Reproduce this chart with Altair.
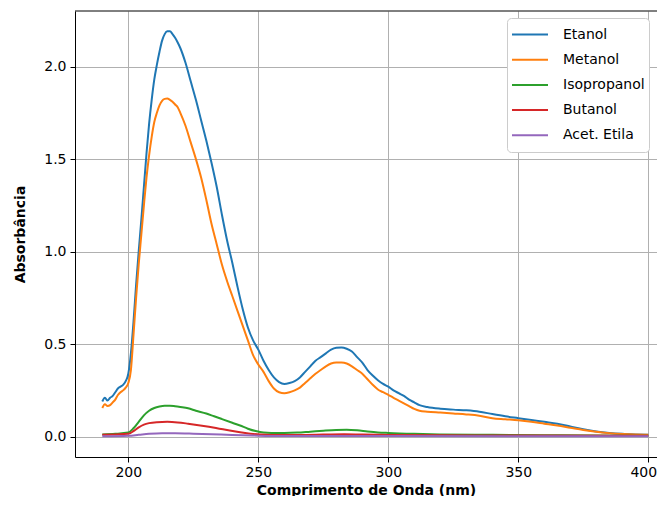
import altair as alt
import pandas as pd

# ---- data ----
etanol_nm = [190, 191, 192, 193, 194, 195, 196, 197, 198, 199, 200, 201, 202, 203, 204, 205, 206, 207, 208, 209,
             210, 211, 212, 213, 214, 215, 216, 217, 218, 219, 220, 222, 224, 226, 228, 230, 232, 234, 236, 238,
             240, 242, 244, 246, 248, 250, 252, 254, 256, 258, 260, 262, 264, 266, 268, 270, 272, 274, 276, 278,
             280, 282, 284, 286, 288, 290, 292, 294, 296, 298, 300, 302, 304, 306, 308, 310, 312, 315, 320, 325,
             330, 335, 340, 345, 350, 355, 360, 365, 370, 375, 380, 385, 390, 395, 400]
etanol_abs = [0.19, 0.21, 0.195, 0.21, 0.22, 0.24, 0.26, 0.27, 0.28, 0.30, 0.34, 0.45, 0.62, 0.82, 1.00, 1.17, 1.35, 1.53, 1.69, 1.82,
              1.93, 2.01, 2.08, 2.14, 2.175, 2.19, 2.19, 2.175, 2.155, 2.13, 2.10, 2.02, 1.92, 1.82, 1.71, 1.60, 1.48, 1.35, 1.20, 1.06,
              0.94, 0.81, 0.69, 0.59, 0.52, 0.47, 0.41, 0.36, 0.32, 0.295, 0.285, 0.29, 0.30, 0.32, 0.35, 0.38, 0.41, 0.43, 0.45, 0.47,
              0.48, 0.482, 0.475, 0.46, 0.43, 0.40, 0.36, 0.33, 0.305, 0.285, 0.27, 0.25, 0.235, 0.22, 0.20, 0.185, 0.17, 0.16, 0.151, 0.146,
              0.142, 0.135, 0.122, 0.11, 0.10, 0.09, 0.08, 0.07, 0.055, 0.04, 0.028, 0.02, 0.015, 0.012, 0.01]

metanol_nm = etanol_nm
metanol_abs = [0.155, 0.175, 0.165, 0.17, 0.185, 0.20, 0.225, 0.24, 0.25, 0.265, 0.29, 0.36, 0.55, 0.75, 0.93, 1.09, 1.25, 1.40, 1.52, 1.62,
               1.70, 1.75, 1.79, 1.815, 1.825, 1.827, 1.82, 1.81, 1.795, 1.78, 1.75, 1.68, 1.59, 1.50, 1.40, 1.28, 1.15, 1.04, 0.93, 0.84,
               0.76, 0.68, 0.60, 0.52, 0.44, 0.39, 0.35, 0.30, 0.26, 0.24, 0.235, 0.24, 0.25, 0.265, 0.29, 0.315, 0.34, 0.36, 0.38, 0.395,
               0.40, 0.40, 0.395, 0.38, 0.36, 0.34, 0.31, 0.28, 0.255, 0.24, 0.226, 0.21, 0.195, 0.18, 0.165, 0.15, 0.14, 0.135, 0.13, 0.125,
               0.12, 0.113, 0.10, 0.094, 0.088, 0.08, 0.07, 0.06, 0.048, 0.036, 0.026, 0.019, 0.014, 0.011, 0.01]

isopropanol_nm = [190, 195, 200, 202, 204, 206, 208, 210, 212, 214, 216, 218, 220, 223, 226, 230, 233, 236, 240, 243,
                  246, 249, 252, 255, 260, 265, 270, 275, 280, 284, 288, 292, 296, 300, 310, 320, 340, 360, 380, 400]
isopropanol_abs = [0.012, 0.015, 0.022, 0.045, 0.08, 0.115, 0.14, 0.155, 0.163, 0.167, 0.167, 0.164, 0.16, 0.153, 0.14, 0.125, 0.11, 0.095, 0.075, 0.06,
                   0.043, 0.03, 0.022, 0.02, 0.02, 0.022, 0.027, 0.032, 0.036, 0.037, 0.034, 0.028, 0.023, 0.02, 0.015, 0.012, 0.01, 0.008, 0.006, 0.005]

butanol_nm = [190, 195, 200, 202, 204, 206, 208, 211, 215, 219, 223, 227, 231, 235, 239, 243, 247, 251, 255, 265,
              275, 283, 290, 300, 320, 350, 400]
butanol_abs = [0.01, 0.012, 0.015, 0.03, 0.05, 0.065, 0.073, 0.078, 0.08, 0.077, 0.07, 0.062, 0.053, 0.043, 0.033, 0.024, 0.016, 0.011, 0.009, 0.009,
               0.011, 0.013, 0.011, 0.009, 0.007, 0.006, 0.005]

acetato_nm = [190, 200, 204, 208, 213, 218, 225, 232, 240, 248, 255, 280, 300, 400]
acetato_abs = [0.002, 0.005, 0.01, 0.015, 0.018, 0.018, 0.016, 0.013, 0.009, 0.006, 0.004, 0.004, 0.003, 0.002]

series_names = ["Etanol", "Metanol", "Isopropanol", "Butanol", "Acet. Etila"]
series_colors = ["#1f77b4", "#ff7f0e", "#2ca02c", "#d62728", "#9467bd"]
x_ticks = [200, 250, 300, 350, 400]
y_ticks = [0.0, 0.5, 1.0, 1.5, 2.0]

frames = []
for name, xs, ys in zip(series_names,
                        [etanol_nm, metanol_nm, isopropanol_nm, butanol_nm, acetato_nm],
                        [etanol_abs, metanol_abs, isopropanol_abs, butanol_abs, acetato_abs]):
    frames.append(pd.DataFrame({"nm": xs, "abs": ys, "solvente": name}))
df = pd.concat(frames, ignore_index=True)

FONT = "DejaVu Sans"
W, H = 582, 446

lines = alt.Chart(df).mark_line(strokeWidth=2, interpolate="monotone").encode(
    x=alt.X("nm:Q", scale=alt.Scale(domain=[179.5, 403.35], nice=False, zero=False),
            axis=alt.Axis(values=x_ticks, title="Comprimento de Onda (nm)", format="d",
                          labelOffset={"condition": {"test": "datum.value === 400", "value": -5}, "value": 0})),
    y=alt.Y("abs:Q", scale=alt.Scale(domain=[-0.11, 2.30], nice=False, zero=False),
            axis=alt.Axis(values=y_ticks, title="Absorbância", format=".1f")),
    color=alt.Color("solvente:N",
                    scale=alt.Scale(domain=series_names, range=series_colors),
                    legend=alt.Legend(title=None, orient="none", legendX=432, legendY=7,
                                      symbolType="stroke", symbolSize=1296, symbolStrokeWidth=2,
                                      labelFontSize=14, labelFont=FONT, labelColor="black",
                                      labelOffset=14, clipHeight=25, rowPadding=0.2, padding=4,
                                      fillColor="white", strokeColor="#cccccc", cornerRadius=4)),
    detail="solvente:N",
)

top_spine = alt.Chart(pd.DataFrame({"s": [0]})).mark_rule(color="black", strokeWidth=1).encode(
    x=alt.value(0), x2=alt.value(W), y=alt.value(0)
)

chart = alt.layer(lines, top_spine).properties(
    width=W, height=H,
    autosize=alt.AutoSizeParams(type="none"),
    padding={"left": 67, "top": 3, "right": 0, "bottom": 39},
).configure_view(strokeWidth=0).configure_axis(
    grid=True, gridColor="#b0b0b0", gridWidth=1,
    domainColor="black", domainWidth=1,
    tickColor="black", tickSize=5, tickWidth=1,
    labelFont=FONT, labelFontSize=14, labelColor="black",
    titleFont=FONT, titleFontSize=14, titleFontWeight="bold", titleColor="black",
).configure_axisX(labelPadding=3, titlePadding=4).configure_axisY(labelPadding=4, titlePadding=16)

chart.save("out.html", embed_options={"renderer": "svg", "actions": False})
